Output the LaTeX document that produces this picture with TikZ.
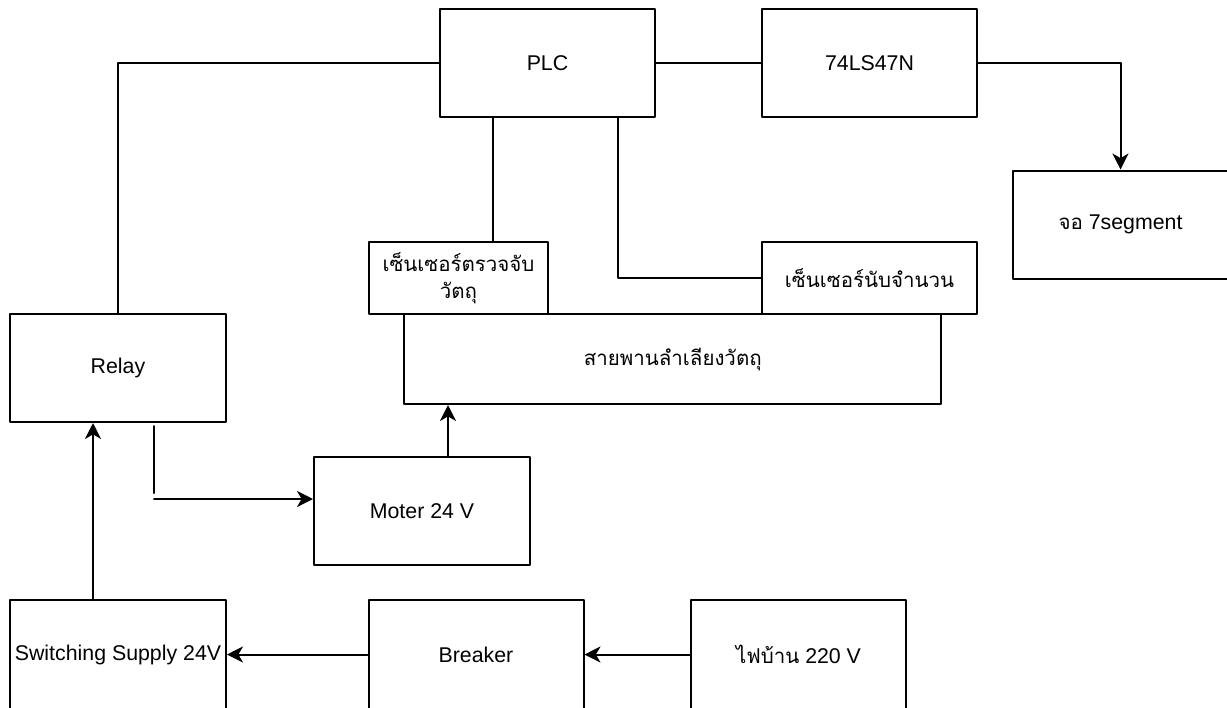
\documentclass[tikz,border=0pt]{standalone}
\usepackage{fontspec}
\setmainfont{Liberation Sans}
\newfontfamily\thaifont[Script=Thai,Scale=0.96]{Loma}
\usetikzlibrary{arrows.meta}
\tikzset{
	blk/.style={draw,line width=1.5pt,minimum width=161.25pt,minimum height=81pt,inner sep=0pt,align=center},
	sen/.style={blk,minimum height=54pt},
	bot/.style={blk,minimum height=81.75pt},
	wire/.style={line width=1.5pt},
}
\begin{document}
\begin{tikzpicture}[x=0.75pt,y=-0.75pt,font=\fontsize{16}{20}\selectfont,line join=round,line cap=round,>={Stealth[length=12pt,width=12pt,inset=3.5pt]}]
		\useasboundingbox(0,0)rectangle(1227,707);
		% top row
		\path(547.5,63)node(plc)[blk]{PLC}
		++(322,0)node(dec)[blk]{74LS47N}
		++(251,161.5)node(seg)[blk]{{\thaifont จอ} 7segment}
		;
		% sensors and belt
		\path
		(672.75,359)node(belt)[blk,minimum width=402.4pt,minimum height=67.5pt]{\thaifont สายพานลำเลียงวัตถุ}
		(458.5,278)node(sen1)[sen,minimum width=134.25pt]{\thaifont เซ็นเซอร์ตรวจจับ\\\thaifont วัตถุ}
		(869.5,278)node(sen2)[sen]{\thaifont เซ็นเซอร์นับจำนวน}
		;
		\path
		(118,368)node(relay)[blk,minimum width=162pt]{Relay}
		(422,511)node(motor)[blk,minimum width=162pt]{Moter 24 V}
		;
		% power
		\path(118,654.5)node(sw)[bot,minimum width=162pt]{Switching Supply 24V}
		++(358,0)node(brk)[bot]{Breaker}
		++(322.5,0)node(home)[bot]{{\thaifont ไฟบ้าน} 220 V}
		;
		\draw[wire](plc.west)-|(relay.north);
		\draw[wire](plc.east)--(dec.west);
		\draw[->,wire](dec.east)-|(seg.north);
		\draw[wire](plc.south west)++(54,0)coordinate(p1)--(p1|-sen1.north);
		\draw[wire](plc.south west)++(179,0)|-(sen2.west);
		\draw[->,wire](sw.north)++(-25,0)coordinate(s1)--(s1|-relay.south);
		\draw[wire](relay.south)++(36,3)coordinate(r1)--++(0,67);
		\draw[->,wire](r1)++(0,73)coordinate(r2)--(r2-|motor.west);
		\draw[->,wire](motor.north)++(26,0)coordinate(m1)--(m1|-belt.south);
		\draw[->,wire](brk.west)--(sw.east);
		\draw[->,wire](home.west)--(brk.east);
\end{tikzpicture}
\end{document}
